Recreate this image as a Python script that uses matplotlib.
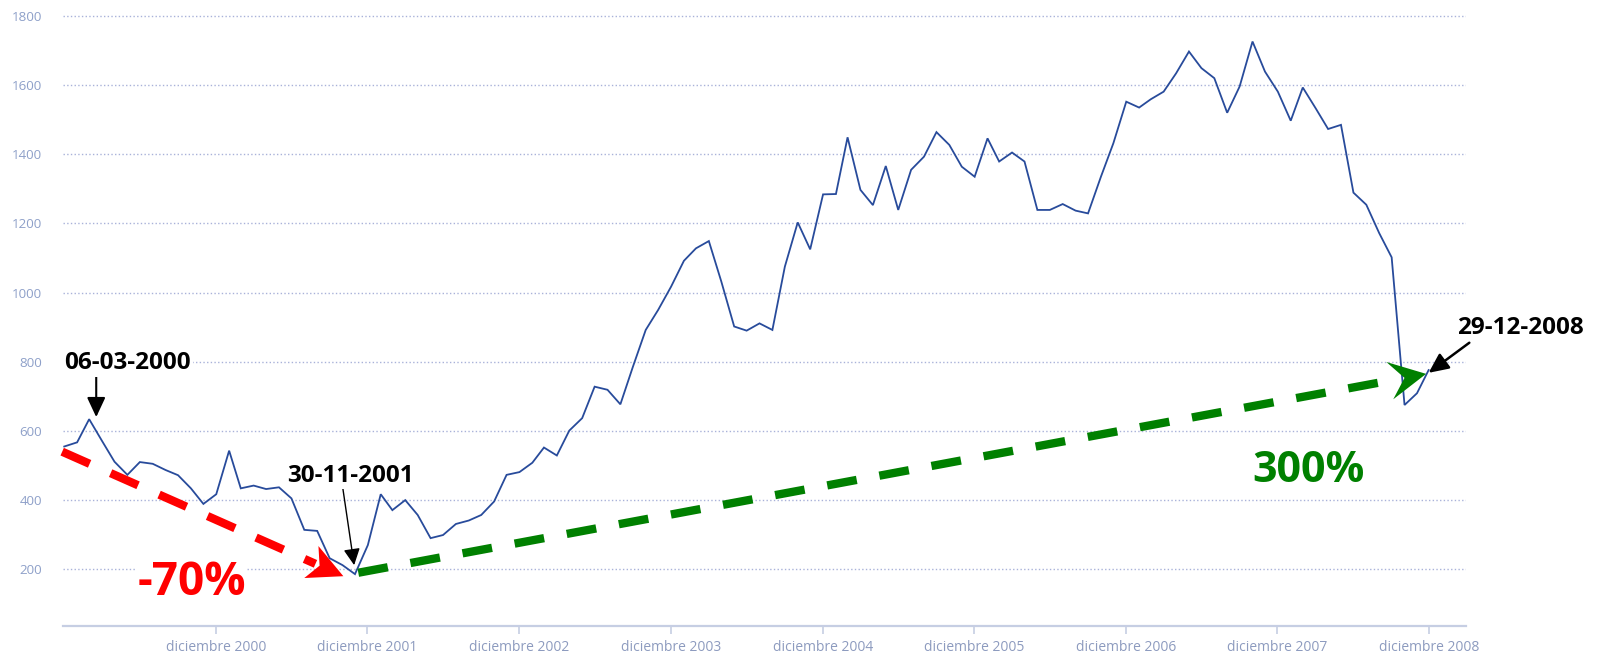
import matplotlib
matplotlib.use("Agg")
import matplotlib.pyplot as plt
import matplotlib.dates as mdates
from matplotlib.patches import Polygon
import numpy as np
import pandas as pd

plt.rcParams["font.family"] = ["Open Sans", "DejaVu Sans"]

# Monthly closing values, January 2000 to 29 December 2008
values = [
    555, 567, 634, 571, 511, 473, 510, 505, 487, 472, 434, 389,
    417, 543, 434, 442, 432, 437, 405, 314, 311, 232, 212, 186,
    270, 417, 371, 400, 357, 290, 299, 331, 341, 357, 396, 473,
    481, 508, 552, 529, 601, 637, 728, 719, 677, 785, 892, 950,
    1017, 1092, 1128, 1149, 1032, 902, 890, 911, 892, 1075, 1203, 1125,
    1284, 1285, 1449, 1297, 1253, 1366, 1239, 1355, 1393, 1464, 1427, 1364,
    1335, 1446, 1379, 1405, 1379, 1239, 1239, 1256, 1237, 1229, 1335, 1432,
    1552, 1535, 1559, 1581, 1634, 1697, 1649, 1620, 1520, 1596, 1726, 1639,
    1581, 1497, 1593, 1533, 1473, 1485, 1289, 1254, 1172, 1102, 675, 709,
    776,
]
dates = list(pd.date_range("2000-01-01", periods=108, freq="MS")) + [pd.Timestamp("2008-12-29")]

y_ticks = [200, 400, 600, 800, 1000, 1200, 1400, 1600, 1800]
x_tick_dates = [pd.Timestamp(f"{y}-12-31") for y in range(2000, 2009)]
x_tick_labels = [f"diciembre {y}" for y in range(2000, 2009)]

W, H, DPI = 1598, 659, 100
fig = plt.figure(figsize=(W / DPI, H / DPI), dpi=DPI)
fig.patch.set_facecolor("white")
ax = fig.add_axes([63 / W, 33 / H, 1403 / W, 626 / H])

ax.plot(dates, values, color="#284b9b", lw=1.3, zorder=3, solid_joinstyle="miter")

ax.set_xlim(pd.Timestamp("1999-12-29"), pd.Timestamp("2009-03-29"))
ax.set_ylim(36, 1846)
ax.set_yticks(y_ticks)
ax.set_yticklabels([str(v) for v in y_ticks])
ax.set_xticks(x_tick_dates)
ax.set_xticklabels(x_tick_labels)

for side in ("top", "right", "left"):
    ax.spines[side].set_visible(False)
ax.spines["bottom"].set_color("#c6cee3")
ax.spines["bottom"].set_linewidth(1.6)

ax.yaxis.grid(True, linestyle=":", color="#a9b2d9", lw=1.0)
ax.xaxis.grid(False)
ax.set_axisbelow(True)

ax.tick_params(axis="y", length=0, pad=15, labelsize=9.6, labelcolor="#8ea0c9")
ax.tick_params(axis="x", length=6, width=1.2, color="#c6cee3", pad=4,
               labelsize=10, labelcolor="#8d9bbf")

fig.canvas.draw()
inv = ax.transData.inverted()


def dashed_arrow(start, end, color, head_len, head_half, notch,
                 dash=30, gap=23, lw=6):
    x0 = mdates.date2num(start[0])
    x1 = mdates.date2num(end[0])
    p0 = ax.transData.transform((x0, start[1]))
    p1 = ax.transData.transform((x1, end[1]))
    d = p1 - p0
    u = d / np.hypot(*d)
    n = np.array([-u[1], u[0]])
    base = p1 - u * head_len
    stop = inv.transform(base + u * notch * 0.5)
    lw_px = lw * DPI / 72
    ax.plot([x0, stop[0]], [start[1], stop[1]], color=color, lw=lw,
            dashes=(dash / lw_px, gap / lw_px), dash_capstyle="butt",
            clip_on=False, zorder=4)
    head = np.array([p1, base + n * head_half, p1 - u * (head_len - notch),
                     base - n * head_half])
    ax.add_patch(Polygon(inv.transform(head), closed=True, facecolor=color,
                         edgecolor="none", clip_on=False, zorder=5))


# fall from the 2000 peak to the 2001 low
dashed_arrow((pd.Timestamp("1999-12-27"), 540), (pd.Timestamp("2001-11-03"), 180),
             "#ff0000", head_len=35, head_half=17.5, notch=9)
# rise from the 2001 low to the end of 2008
dashed_arrow((pd.Timestamp("2001-12-09"), 190), (pd.Timestamp("2008-12-23"), 765),
             "#008000", head_len=37, head_half=19, notch=15)


def pointer(tail, tip, lw, hl, hw):
    ax.annotate("", xy=tip, xytext=tail, annotation_clip=False,
                arrowprops=dict(arrowstyle=f"-|>,head_length={hl},head_width={hw}",
                                color="black", lw=lw, shrinkA=0, shrinkB=0,
                                mutation_scale=1), zorder=6)


pointer((pd.Timestamp("2000-03-18"), 757), (pd.Timestamp("2000-03-18"), 640), 1.5, 12, 5.6)
pointer((pd.Timestamp("2001-11-02"), 432), (pd.Timestamp("2001-11-29"), 212), 1.0, 10, 5.0)
pointer((pd.Timestamp("2009-04-06"), 855), (pd.Timestamp("2008-12-29"), 768), 1.8, 12, 5.6)

label_box = dict(facecolor="white", edgecolor="none", pad=1)
ax.text(pd.Timestamp("2000-06-02"), 778, "06-03-2000", ha="center", va="baseline",
        fontsize=17.5, fontweight="bold", color="black", bbox=label_box, zorder=6)
ax.text(pd.Timestamp("2001-11-19"), 453, "30-11-2001", ha="center", va="baseline",
        fontsize=17.5, fontweight="bold", color="black", bbox=label_box, zorder=6)
ax.text(pd.Timestamp("2009-08-07"), 880, "29-12-2008", ha="center", va="baseline",
        fontsize=17.5, fontweight="bold", color="black", clip_on=False, zorder=6)

ax.text(pd.Timestamp("2000-11-03"), 126, "-70%", ha="center", va="baseline",
        fontsize=33, fontweight="bold", color="#ff0000", bbox=label_box, zorder=6)
ax.text(pd.Timestamp("2008-03-15"), 453, "300%", ha="center", va="baseline",
        fontsize=31, fontweight="bold", color="#008000", zorder=6)

fig.savefig("out.png", dpi=DPI, facecolor="white")
